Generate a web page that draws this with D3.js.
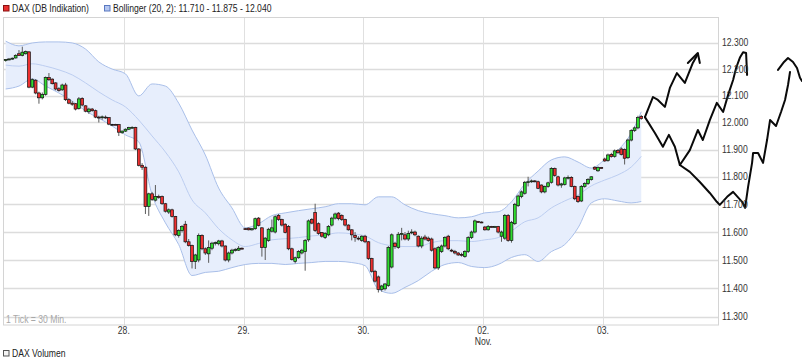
<!DOCTYPE html>
<html><head><meta charset="utf-8">
<script src="https://cdn.jsdelivr.net/npm/d3@7"></script>
<style>
body{margin:0;background:#fff}
svg{display:block}
text{font-family:"Liberation Sans",Arial,sans-serif}
</style>
</head><body><div id="chart"></div>
<script>
// ---------- DATA ----------
const dayLabels = ["28.", "29.", "30.", "02.", "03."];
const daySlots = [36, 72, 108, 144, 180];
const monthLabel = "Nov.";
const monthSlot = 144;
const yTickValues = [11300, 11400, 11500, 11600, 11700, 11800, 11900, 12000, 12100, 12200, 12300];

const openP = [
 12232,12236,12238,12242,12258,12252,12258,12265,12132,12158,12110,12092,
 12105,12168,12162,12148,12126,12122,12140,12085,12072,12070,12052,12090,
 12062,12040,12050,12044,12020,12018,12020,12018,11993,11993,11992,11962,
 11968,11975,11981,11982,11902,11842,11835,11692,11738,11715,11728,11728,
 11702,11672,11680,11656,11588,11605,11628,11565,11552,11495,11500,11588,
 11540,11522,11542,11560,11558,11568,11550,11500,11525,11535,11535,11542,
 11612,11614,11608,11612,11650,11615,11545,11570,11603,11600,11660,11645,
 11628,11620,11540,11495,11508,11525,11530,11572,11645,11670,11630,11598,
 11580,11590,11625,11650,11668,11660,11645,11625,11608,11588,11578,11570,
 11585,11565,11505,11460,11440,11395,11398,11410,11475,11560,11545,11592,
 11590,11575,11598,11600,11585,11550,11582,11578,11575,11540,11472,11530,
 11550,11585,11535,11530,11525,11520,11512,11530,11580,11600,11638,11636,
 11618,11608,11620,11619,11620,11585,11578,11660,11570,11630,11695,11728,
 11740,11780,11782,11785,11782,11770,11745,11765,11780,11830,11800,11770,
 11772,11796,11798,11765,11728,11712,11765,11775,11790,11835,11822,11834,
 11865,11860,11882,11875,11896,11902,11900,11870,11935,11970,11980,12022
];
const highP = [
 12238,12242,12244,12256,12272,12285,12270,12268,12165,12162,12115,12112,
 12172,12185,12165,12150,12132,12145,12148,12090,12080,12072,12095,12094,
 12064,12055,12054,12048,12025,12026,12026,12020,11995,11995,11994,11970,
 11978,11984,11986,11984,11905,11850,11838,11742,11745,11770,11735,11732,
 11705,11685,11684,11658,11610,11625,11640,11575,11555,11522,11595,11592,
 11545,11570,11565,11566,11572,11572,11552,11530,11540,11542,11550,11545,
 11615,11616,11614,11652,11654,11618,11582,11615,11645,11660,11665,11648,
 11632,11625,11544,11512,11535,11540,11575,11645,11650,11702,11635,11600,
 11600,11625,11655,11670,11672,11664,11648,11628,11610,11600,11585,11588,
 11590,11568,11508,11465,11445,11412,11418,11550,11595,11565,11600,11615,
 11600,11605,11610,11605,11588,11585,11590,11584,11580,11545,11550,11555,
 11585,11590,11540,11536,11528,11526,11535,11585,11605,11645,11640,11638,
 11622,11625,11622,11622,11622,11605,11665,11665,11640,11705,11735,11750,
 11785,11800,11790,11788,11786,11772,11768,11782,11835,11834,11804,11778,
 11800,11805,11802,11768,11732,11770,11780,11795,11802,11838,11838,11836,
 11870,11885,11888,11900,11902,11908,11904,11940,11975,11985,12025,12028
];
const lowP = [
 12228,12233,12235,12240,12250,12248,12255,12128,12128,12105,12070,12086,
 12100,12155,12142,12120,12115,12118,12080,12068,12062,12045,12048,12060,
 12038,12032,12040,12016,12000,12010,12014,11990,11990,11991,11950,11958,
 11965,11972,11978,11898,11838,11825,11665,11658,11712,11710,11720,11698,
 11670,11665,11652,11585,11580,11598,11560,11548,11470,11468,11492,11535,
 11518,11490,11535,11552,11552,11545,11495,11492,11520,11530,11532,11538,
 11608,11606,11605,11608,11620,11512,11500,11565,11598,11595,11640,11620,
 11595,11535,11498,11488,11505,11520,11462,11565,11628,11600,11590,11580,
 11575,11585,11620,11645,11642,11640,11620,11605,11570,11565,11570,11565,
 11560,11500,11455,11420,11385,11388,11392,11405,11470,11540,11540,11570,
 11570,11568,11592,11585,11545,11542,11570,11565,11530,11468,11465,11525,
 11545,11535,11528,11520,11515,11512,11508,11525,11575,11595,11634,11632,
 11605,11605,11617,11616,11595,11565,11572,11565,11562,11625,11690,11722,
 11735,11765,11778,11780,11755,11740,11740,11760,11775,11800,11765,11760,
 11768,11790,11762,11715,11705,11708,11760,11770,11786,11825,11818,11830,
 11855,11855,11870,11870,11885,11878,11845,11865,11930,11965,11975,12010
];
const closeP = [
 12236,12238,12241,12252,12252,12264,12266,12132,12160,12110,12092,12105,
 12168,12160,12145,12125,12120,12140,12085,12072,12068,12050,12088,12065,
 12042,12050,12044,12020,12018,12021,12018,11994,11993,11992,11964,11968,
 11975,11981,11982,11902,11842,11835,11692,11738,11718,11728,11725,11702,
 11675,11680,11656,11590,11605,11620,11565,11552,11495,11518,11588,11540,
 11525,11545,11560,11562,11568,11550,11500,11525,11535,11537,11542,11540,
 11611,11608,11612,11648,11624,11545,11578,11610,11615,11655,11645,11625,
 11598,11540,11502,11508,11530,11535,11570,11640,11632,11605,11595,11585,
 11595,11620,11650,11665,11648,11645,11625,11608,11590,11580,11575,11585,
 11565,11505,11460,11425,11395,11408,11415,11545,11590,11548,11592,11595,
 11575,11595,11600,11590,11550,11578,11575,11570,11535,11472,11545,11550,
 11580,11540,11532,11525,11518,11518,11530,11580,11600,11640,11636,11635,
 11608,11620,11619,11620,11600,11600,11660,11570,11635,11700,11730,11745,
 11780,11782,11785,11784,11758,11745,11765,11778,11830,11805,11770,11774,
 11796,11798,11765,11720,11710,11765,11775,11790,11800,11828,11834,11833,
 11858,11880,11874,11895,11888,11882,11868,11935,11970,11980,12018,12015
];

const bandSlots = [0,4,8,12,16,20,24,28,32,36,40,44,48,52,56,60,64,68,72,76,80,84,88,92,96,100,104,108,112,116,120,124,128,132,136,140,144,148,152,156,160,164,168,172,176,180,184,188,191];
const bandUpper = [12306,12288,12299,12303,12303,12299,12276,12227,12200,12182,12099,12144,12136,12072,11972,11880,11759,11687,11615,11630,11659,11669,11677,11684,11691,11702,11702,11698,11727,11727,11698,11677,11666,11659,11651,11655,11669,11673,11709,11774,11821,11862,11873,11854,11832,11862,11898,11961,12040];
const bandMiddle = [12215,12211,12220,12211,12197,12178,12148,12114,12084,12058,12009,11950,11891,11818,11716,11669,11612,11572,11548,11559,11572,11576,11580,11586,11590,11597,11594,11586,11562,11551,11548,11548,11562,11569,11569,11566,11572,11580,11604,11637,11651,11687,11712,11734,11767,11788,11807,11836,11875];
const bandLower = [12125,12136,12163,12136,12110,12080,12043,12016,11987,11954,11928,11734,11633,11555,11445,11456,11460,11473,11484,11488,11488,11484,11488,11491,11495,11495,11491,11480,11396,11382,11403,11427,11460,11484,11491,11477,11473,11484,11509,11519,11495,11530,11555,11615,11705,11720,11712,11705,11710];

// hand-drawn annotation strokes: [slot, price]
const sketchA = [[192.1,12020],[194.5,12095],[196.0,12084],[198.1,12058],[199.6,12129],[201.7,12185],[204.1,12148],[206.5,12223],[208.0,12257]];
const sketchArrow = [[205.0,12223],[208.0,12261],[208.6,12223]];
const sketchB = [[192.1,12020],[195.1,11961],[197.5,11910],[199.3,11954],[201.1,11910],[202.6,11843],[205.6,11898],[208.0,11972],[209.5,11935],[211.6,12009],[213.7,12073],[215.6,12039],[217.1,12103],[218.6,12159],[219.5,12204],[220.7,12245],[221.6,12264],[222.5,12261],[222.8,12178]];
const sketchC = [[202.6,11843],[205.6,11818],[208.6,11781],[211.6,11741],[213.7,11709],[214.6,11698],[216.8,11727],[218.6,11745],[221.3,11709],[222.2,11687],[223.1,11763],[224.3,11851],[224.6,11887],[226.1,11887],[227.6,11851],[228.8,11935],[229.7,12009],[231.5,11987],[233.0,12039],[234.2,12084],[235.1,12140],[235.7,12189]];
const sketchD = [[232.1,12197],[233.9,12227],[235.1,12242],[236.6,12227],[237.8,12204],[238.7,12167],[239.3,12155]];

// ---------- CHART ----------
const W = 802, H = 358;
const pLeft = 4, pRight = 718, pTop = 17.5, pBottom = 325;
const NARROW = 0.82;
const svg = d3.select("#chart").append("svg").attr("width", W).attr("height", H);

const x = d3.scaleLinear().domain([0, 214.56]).range([pLeft, pRight]);
const y = d3.scaleLog().domain([11300, 12300]).range([316.7, 42.7]);
const cx = i => x(i + 0.5);

const de = d3.formatLocale({decimal: ",", thousands: ".", grouping: [3], currency: ["", "€"]});
const fmt = de.format(",.0f");

function label(tx, ty, str, size, color, anchor) {
  return svg.append("text")
    .attr("transform", `translate(${tx},${ty}) scale(${NARROW},1)`)
    .attr("font-size", size).attr("fill", color)
    .attr("text-anchor", anchor || "start").text(str);
}

svg.append("clipPath").attr("id", "plot").append("rect")
  .attr("x", pLeft).attr("y", pTop).attr("width", pRight - pLeft).attr("height", pBottom - pTop);

// grid
const grid = svg.append("g");
grid.selectAll("line.h").data(yTickValues).join("line")
  .attr("x1", pLeft).attr("x2", pRight)
  .attr("y1", d => Math.round(y(d)) + 0.5).attr("y2", d => Math.round(y(d)) + 0.5)
  .attr("stroke", "#dcdcdc").attr("stroke-width", 1.3);
grid.selectAll("line.v").data(daySlots).join("line")
  .attr("x1", d => Math.round(x(d)) + 0.5).attr("x2", d => Math.round(x(d)) + 0.5)
  .attr("y1", pTop).attr("y2", pBottom)
  .attr("stroke", "#e0e0e0").attr("stroke-width", 1);

// frame
svg.append("rect").attr("x", pLeft - 0.5).attr("y", pTop).attr("width", pRight - pLeft + 1).attr("height", pBottom - pTop)
  .attr("fill", "none").attr("stroke", "#d4d4d4").attr("stroke-width", 1);

// bollinger
const band = bandSlots.map((s, i) => ({s, u: bandUpper[i], m: bandMiddle[i], l: bandLower[i]}));
const gBand = svg.append("g").attr("clip-path", "url(#plot)");
gBand.append("path").datum(band)
  .attr("d", d3.area().curve(d3.curveMonotoneX).x(d => cx(d.s)).y0(d => y(d.l)).y1(d => y(d.u)))
  .attr("fill", "#e7eefc");
["u", "m", "l"].forEach(k => {
  gBand.append("path").datum(band)
    .attr("d", d3.line().curve(d3.curveMonotoneX).x(d => cx(d.s)).y(d => y(d[k])))
    .attr("fill", "none").attr("stroke", k === "m" ? "#bccdf0" : "#a9bfe9").attr("stroke-width", 1);
});

// candles
const candles = openP.map((o, i) => ({i, o, h: highP[i], l: lowP[i], c: closeP[i]}));
const gC = svg.append("g");
gC.selectAll("line.w").data(candles).join("line")
  .attr("x1", d => cx(d.i)).attr("x2", d => cx(d.i))
  .attr("y1", d => y(d.h)).attr("y2", d => y(d.l))
  .attr("stroke", "#5a5a5a").attr("stroke-width", 1);
const bw = 2.8;
gC.selectAll("rect.b").data(candles).join("rect")
  .attr("x", d => cx(d.i) - bw / 2).attr("width", bw)
  .attr("y", d => y(Math.max(d.o, d.c)))
  .attr("height", d => Math.max(0.9, Math.abs(y(d.o) - y(d.c))))
  .attr("fill", d => d.c > d.o ? "#2fdc2f" : (d.c < d.o ? "#ee3030" : "#000"))
  .attr("stroke", "#111").attr("stroke-width", 0.7);

// sketches
const sk = d3.line().x(d => cx(d[0])).y(d => y(d[1]));
[sketchA, sketchArrow, sketchB, sketchC, sketchD].forEach(p => {
  svg.append("path").datum(p).attr("d", sk)
    .attr("fill", "none").attr("stroke", "#0a0a0a").attr("stroke-width", 2)
    .attr("stroke-linejoin", "round").attr("stroke-linecap", "round");
});

// right axis labels
yTickValues.forEach(v => label(pRight + 4, y(v) + 3.7, fmt(v), 10.5, "#333"));

// x labels
daySlots.forEach((s, i) => label(x(s), 334, dayLabels[i], 10.5, "#333", "middle"));
label(x(monthSlot), 345, monthLabel, 10.5, "#333", "middle");

label(6, 322.5, "1 Tick = 30 Min.", 10.5, "#a8a8a8");

// legend
svg.append("rect").attr("x", 3.5).attr("y", 5.5).attr("width", 5.5).attr("height", 5.5)
  .attr("fill", "#e83030").attr("stroke", "#8a1010").attr("stroke-width", 1);
label(12, 12, "DAX (DB Indikation)", 10.5, "#222");
svg.append("rect").attr("x", 104.5).attr("y", 5.5).attr("width", 5.5).attr("height", 5.5)
  .attr("fill", "#b4c6f0").attr("stroke", "#5a78c0").attr("stroke-width", 1);
const last = bandSlots.length - 1;
label(113, 12, `Bollinger (20, 2): ${fmt(bandLower[last])} - ${fmt(bandMiddle[last])} - ${fmt(bandUpper[last])}`, 10.5, "#222");

svg.append("rect").attr("x", 3.5).attr("y", 350.5).attr("width", 5.5).attr("height", 5.5)
  .attr("fill", "#f4f4f4").attr("stroke", "#555").attr("stroke-width", 1);
label(12, 357, "DAX Volumen", 10.5, "#222");
</script>
</body></html>
